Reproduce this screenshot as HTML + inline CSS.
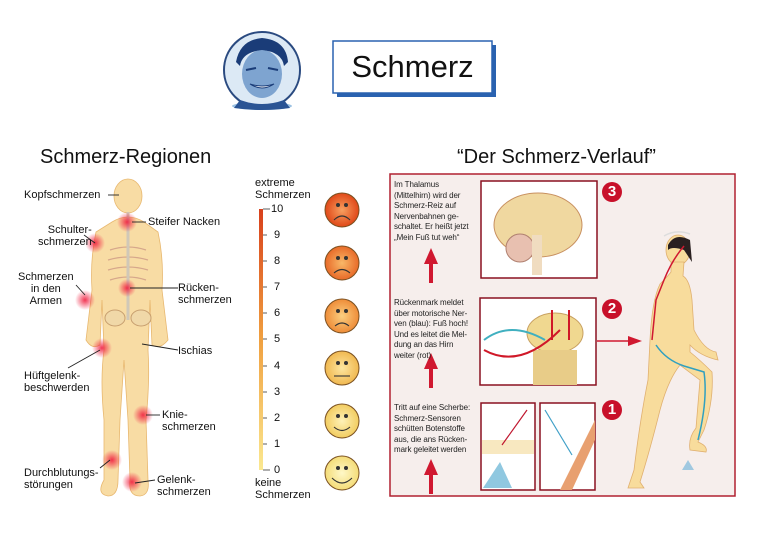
<!DOCTYPE html>
<html><head><meta charset="utf-8"><style>
html,body{margin:0;padding:0;background:#fff;}
body{width:760px;height:538px;position:relative;overflow:hidden;font-family:"Liberation Sans",sans-serif;}
.t{position:absolute;color:#111;font-size:11px;line-height:12px;}
.s{position:absolute;color:#222;font-size:8px;line-height:10.6px;letter-spacing:-0.1px;}
</style></head><body>
<svg width="760" height="538" style="position:absolute;left:0;top:0">
<defs>
<linearGradient id="sc" x1="0" y1="0" x2="0" y2="1"><stop offset="0" stop-color="#d8401c"/><stop offset="0.5" stop-color="#f0a040"/><stop offset="1" stop-color="#fbe890"/></linearGradient>
<radialGradient id="hot"><stop offset="0" stop-color="#f02040" stop-opacity="0.9"/><stop offset="1" stop-color="#f02040" stop-opacity="0"/></radialGradient>
<radialGradient id="f1"><stop offset="0" stop-color="#f7a060"/><stop offset="1" stop-color="#e04818"/></radialGradient>
<radialGradient id="f2"><stop offset="0" stop-color="#f8b868"/><stop offset="1" stop-color="#e86a28"/></radialGradient>
<radialGradient id="f3"><stop offset="0" stop-color="#fbcf80"/><stop offset="1" stop-color="#ee8c38"/></radialGradient>
<radialGradient id="f4"><stop offset="0" stop-color="#fde6a0"/><stop offset="1" stop-color="#f0b850"/></radialGradient>
<radialGradient id="f5"><stop offset="0" stop-color="#fef2b8"/><stop offset="1" stop-color="#f2cc60"/></radialGradient>
<radialGradient id="f6"><stop offset="0" stop-color="#fff8c8"/><stop offset="1" stop-color="#f4dc78"/></radialGradient>
</defs>
<!-- header face -->
<ellipse cx="262" cy="106" rx="30" ry="4" fill="#5a9ad0" opacity="0.6"/>
<circle cx="262" cy="70" r="38" fill="#dce9f5" stroke="#2a4a80" stroke-width="2"/>
<ellipse cx="262" cy="74" rx="20" ry="24" fill="#7ea4d0"/>
<path d="M236 62 Q240 40 262 38 Q286 40 288 62 L284 66 Q282 52 262 50 Q242 52 240 66Z" fill="#1a3c78"/>
<path d="M246 70 L256 68 M268 68 L278 70" stroke="#1a3c78" stroke-width="2"/>
<path d="M250 84 Q262 92 274 84 Q262 88 250 84Z" fill="#fff" stroke="#1a3c78"/>
<path d="M240 100 Q262 108 284 100 L290 108 Q262 112 234 108Z" fill="#2a5494"/>
<!-- Schmerz box -->
<rect x="337" y="45" width="159" height="52" fill="#2a62b0"/>
<rect x="333" y="41" width="159" height="52" fill="#fff" stroke="#2a62b0" stroke-width="1.5"/>
<!-- body -->
<g fill="#f8dca4" stroke="#e8b870" stroke-width="0.8">
<ellipse cx="128" cy="196" rx="14" ry="17"/>
<path d="M112 222 Q128 212 144 222 L158 232 Q164 260 162 290 L168 340 Q160 350 152 345 L150 300 L148 350 Q150 380 146 420 L148 480 Q150 495 140 496 Q128 496 130 480 L128 420 L124 360 L120 420 L118 480 Q118 496 108 496 Q96 494 104 480 L104 420 Q100 380 104 350 L102 300 L100 345 Q92 350 86 340 L92 290 Q90 260 96 232Z"/>
</g>
<g stroke="#c89080" stroke-width="1.2" fill="none" opacity="0.7">
<path d="M110 250 Q128 244 146 250 M108 260 Q128 254 148 260 M108 270 Q128 264 148 270 M110 280 Q128 274 146 280"/>
</g>
<line x1="128" y1="212" x2="128" y2="320" stroke="#d0c8b8" stroke-width="3"/>
<ellipse cx="115" cy="318" rx="10" ry="8" fill="#f0d8a8" stroke="#c8a070"/>
<ellipse cx="141" cy="318" rx="10" ry="8" fill="#f0d8a8" stroke="#c8a070"/>
<g fill="url(#hot)">
<circle cx="127" cy="222" r="10"/><circle cx="95" cy="243" r="10"/><circle cx="85" cy="300" r="10"/>
<circle cx="127" cy="288" r="9"/><circle cx="102" cy="348" r="10"/><circle cx="143" cy="415" r="10"/>
<circle cx="112" cy="460" r="10"/><circle cx="132" cy="482" r="10"/>
</g>
<g stroke="#222" stroke-width="0.9">
<line x1="108" y1="195" x2="119" y2="195"/><line x1="132" y1="222" x2="146" y2="222"/>
<line x1="84" y1="235" x2="95" y2="243"/><line x1="76" y1="285" x2="85" y2="295"/>
<line x1="130" y1="288" x2="178" y2="288"/><line x1="142" y1="344" x2="178" y2="350"/>
<line x1="68" y1="368" x2="100" y2="350"/><line x1="146" y1="415" x2="160" y2="415"/>
<line x1="100" y1="468" x2="110" y2="460"/><line x1="135" y1="483" x2="155" y2="480"/>
</g>
<!-- scale -->
<rect x="259" y="209" width="4" height="261" fill="url(#sc)"/>
<g stroke="#333" stroke-width="0.8">
<line x1="263" y1="209" x2="270" y2="209"/><line x1="263" y1="235" x2="267" y2="235"/><line x1="263" y1="261" x2="267" y2="261"/><line x1="263" y1="287" x2="267" y2="287"/><line x1="263" y1="313" x2="267" y2="313"/><line x1="263" y1="339" x2="267" y2="339"/><line x1="263" y1="366" x2="267" y2="366"/><line x1="263" y1="392" x2="267" y2="392"/><line x1="263" y1="418" x2="267" y2="418"/><line x1="263" y1="444" x2="267" y2="444"/><line x1="263" y1="470" x2="270" y2="470"/>
</g>
<!-- faces -->
<g stroke="#7a5020" stroke-width="1">
<circle cx="342" cy="210" r="17" fill="url(#f1)"/><circle cx="342" cy="263" r="17" fill="url(#f2)"/>
<circle cx="342" cy="316" r="17" fill="url(#f3)"/><circle cx="342" cy="368" r="17" fill="url(#f4)"/>
<circle cx="342" cy="421" r="17" fill="url(#f5)"/><circle cx="342" cy="473" r="17" fill="url(#f6)"/>
</g>
<g fill="none" stroke="#333" stroke-width="1.1">
<path d="M334 220 Q342 212 350 220"/><path d="M334 273 Q342 266 350 273"/><path d="M335 326 Q342 320 349 326"/>
<path d="M334 376 L350 376"/><path d="M334 427 Q342 434 350 427"/><path d="M332 478 Q342 488 352 478"/>
</g>
<g fill="#333"><circle cx="338" cy="205" r="2"/><circle cx="346" cy="205" r="2"/><circle cx="338" cy="258" r="2"/><circle cx="346" cy="258" r="2"/><circle cx="338" cy="311" r="2"/><circle cx="346" cy="311" r="2"/><circle cx="338" cy="363" r="2"/><circle cx="346" cy="363" r="2"/><circle cx="338" cy="416" r="2"/><circle cx="346" cy="416" r="2"/><circle cx="338" cy="468" r="2"/><circle cx="346" cy="468" r="2"/></g>
<!-- right panel -->
<rect x="390" y="174" width="345" height="322" fill="#f6eeec" stroke="#b02030" stroke-width="1.5"/>
<rect x="481" y="181" width="116" height="97" fill="#fff" stroke="#8a1020" stroke-width="1.5"/>
<ellipse cx="538" cy="225" rx="44" ry="32" fill="#f0d8a0" stroke="#c89060"/>
<circle cx="520" cy="248" r="14" fill="#e8c0b0" stroke="#b08070"/>
<rect x="532" y="235" width="10" height="40" fill="#f0dcc0"/>
<rect x="480" y="298" width="116" height="87" fill="#fff" stroke="#8a1020" stroke-width="1.5"/>
<ellipse cx="555" cy="333" rx="28" ry="20" fill="#f0d890" stroke="#c8a060"/>
<rect x="533" y="350" width="44" height="35" fill="#e8cc88"/>
<path d="M484 340 Q510 320 545 340" stroke="#40b0c0" stroke-width="2" fill="none"/>
<path d="M484 350 Q520 370 560 330" stroke="#d01828" stroke-width="2" fill="none"/>
<path d="M552 340 L552 310 M569 340 L569 310" stroke="#d01828" stroke-width="2"/>
<rect x="481" y="403" width="54" height="87" fill="#fff" stroke="#8a1020" stroke-width="1.5"/>
<rect x="482" y="440" width="52" height="14" fill="#f8e8c0"/>
<path d="M483 488 L500 462 L512 488Z" fill="#90c8e0"/>
<path d="M502 445 L527 410" stroke="#c01830" stroke-width="1.2"/>
<rect x="540" y="403" width="55" height="87" fill="#fff" stroke="#8a1020" stroke-width="1.5"/>
<path d="M560 490 L595 420 L595 440 L572 490Z" fill="#e8a070"/>
<path d="M545 410 L572 455" stroke="#40a0c8" stroke-width="1.2"/>
<g fill="#c8102a"><circle cx="612" cy="192" r="10"/><circle cx="612" cy="309" r="10"/><circle cx="612" cy="410" r="10"/></g>
<g fill="#d01830"><path d="M431 248 L424 264 L429 264 L429 283 L433 283 L433 264 L438 264Z"/><path d="M431 353 L424 369 L429 369 L429 388 L433 388 L433 369 L438 369Z"/><path d="M431 459 L424 475 L429 475 L429 494 L433 494 L433 475 L438 475Z"/></g>
<path d="M597 341 L632 341" stroke="#d01830" stroke-width="1.5"/><path d="M642 341 L628 336 L628 346Z" fill="#d01830"/>
<!-- woman -->
<g fill="#f8dc9c" stroke="#e0b070" stroke-width="0.8">
<ellipse cx="678" cy="250" rx="12" ry="15"/>
<path d="M671 262 L684 262 L683 276 Q690 280 692 300 L694 330 Q704 350 716 352 L718 360 Q700 356 690 345 L690 352 Q700 360 712 372 Q714 400 704 430 L698 442 Q708 446 706 452 L690 450 Q688 438 696 428 L700 380 L680 365 Q668 380 660 410 Q650 450 640 482 L644 488 L628 488 L634 470 Q640 420 648 380 L650 340 Q652 300 660 284 Q668 276 671 272Z"/>
</g>
<path d="M668 245 Q675 232 690 240 L692 262 L684 250 Q672 246 668 250Z" fill="#2a2020"/>
<path d="M664 236 Q676 229 690 234" stroke="#ddd" stroke-width="1.5" fill="none"/>
<path d="M684 246 Q672 260 664 280 L656 300 L652 340" stroke="#d01830" stroke-width="1.5" fill="none"/>
<path d="M656 345 Q666 360 684 366 L704 372 Q708 400 698 440" stroke="#30a0c0" stroke-width="1.5" fill="none"/>
<path d="M682 470 L694 470 L688 460Z" fill="#a0c8e0"/>
</svg>

<div style="position:absolute;left:333px;top:41px;width:159px;height:52px;line-height:52px;text-align:center;font-size:31px;color:#111">Schmerz</div>
<div style="position:absolute;left:40px;top:146px;font-size:20px;color:#111">Schmerz-Regionen</div>
<div style="position:absolute;left:457px;top:146px;font-size:20px;color:#111">“Der Schmerz-Verlauf”</div>

<div class="t" style="left:24px;top:189px">Kopfschmerzen</div>
<div class="t" style="left:148px;top:216px">Steifer Nacken</div>
<div class="t" style="left:38px;top:224px;text-align:right">Schulter-<br>schmerzen</div>
<div class="t" style="left:18px;top:271px;text-align:center">Schmerzen<br>in den<br>Armen</div>
<div class="t" style="left:178px;top:282px">Rücken-<br>schmerzen</div>
<div class="t" style="left:178px;top:345px">Ischias</div>
<div class="t" style="left:24px;top:370px">Hüftgelenk-<br>beschwerden</div>
<div class="t" style="left:162px;top:409px">Knie-<br>schmerzen</div>
<div class="t" style="left:24px;top:467px">Durchblutungs-<br>störungen</div>
<div class="t" style="left:157px;top:474px">Gelenk-<br>schmerzen</div>
<div class="t" style="left:255px;top:177px">extreme<br>Schmerzen</div>
<div class="t" style="left:255px;top:477px">keine<br>Schmerzen</div>
<div class="t" style="left:271px;top:203px">10</div>
<div class="t" style="left:274px;top:229px">9</div><div class="t" style="left:274px;top:255px">8</div><div class="t" style="left:274px;top:281px">7</div><div class="t" style="left:274px;top:307px">6</div><div class="t" style="left:274px;top:333px">5</div><div class="t" style="left:274px;top:360px">4</div><div class="t" style="left:274px;top:386px">3</div><div class="t" style="left:274px;top:412px">2</div><div class="t" style="left:274px;top:438px">1</div><div class="t" style="left:274px;top:464px">0</div>

<div class="s" style="left:394px;top:180px">Im Thalamus<br>(Mittelhirn) wird der<br>Schmerz-Reiz auf<br>Nervenbahnen ge-<br>schaltet. Er heißt jetzt<br>„Mein Fuß tut weh“</div>
<div class="s" style="left:394px;top:298px">Rückenmark meldet<br>über motorische Ner-<br>ven (blau): Fuß hoch!<br>Und es leitet die Mel-<br>dung an das Hirn<br>weiter (rot)</div>
<div class="s" style="left:394px;top:403px">Tritt auf eine Scherbe:<br>Schmerz-Sensoren<br>schütten Botenstoffe<br>aus, die ans Rücken-<br>mark geleitet werden</div>
<div style="position:absolute;left:602px;top:182px;width:20px;text-align:center;color:#fff;font-weight:bold;font-size:15px;line-height:20px">3</div>
<div style="position:absolute;left:602px;top:299px;width:20px;text-align:center;color:#fff;font-weight:bold;font-size:15px;line-height:20px">2</div>
<div style="position:absolute;left:602px;top:400px;width:20px;text-align:center;color:#fff;font-weight:bold;font-size:15px;line-height:20px">1</div>
</body></html>
